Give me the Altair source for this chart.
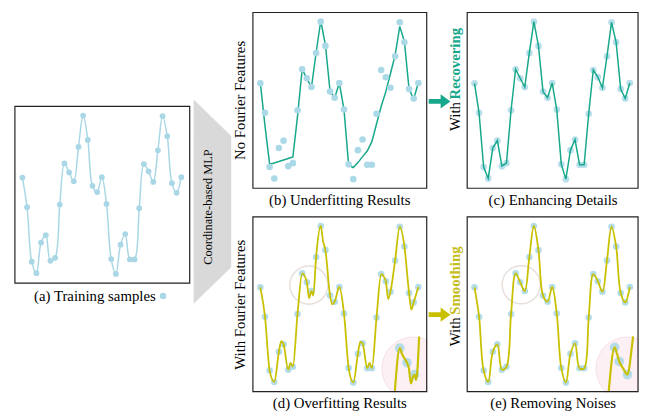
import altair as alt
import pandas as pd

# ---------------- data ----------------
t_samples = list(range(35))
samples = [0.597, 0.429, 0.121, 0.056, 0.229, 0.271, 0.126, 0.143, 0.444, 0.677,
           0.626, 0.576, 0.770, 0.948, 0.810, 0.550, 0.515, 0.599, 0.448, 0.136,
           0.052, 0.217, 0.277, 0.134, 0.134, 0.424, 0.673, 0.632, 0.572, 0.751,
           0.944, 0.831, 0.565, 0.511, 0.599]

underfit = [0.600, 0.355, 0.137, 0.144, 0.152, 0.161, 0.169, 0.178, 0.409, 0.677,
            0.625, 0.574, 0.771, 0.953, 0.816, 0.553, 0.514, 0.600, 0.447, 0.131,
            0.118, 0.146, 0.180, 0.212, 0.265, 0.366, 0.465, 0.550, 0.653, 0.756,
            0.921, 0.835, 0.565, 0.507, 0.600]

# extra wiggles of the over-fitted curve (between samples)
over_extra_t = [4.5, 6.5, 10.5, 11.4, 13.5, 15.5, 21.5, 23.5, 27.5, 32.5]
over_extra_v = [0.290, 0.165, 0.536, 0.550, 0.860, 0.500, 0.285, 0.165, 0.530, 0.470]

# zoomed insets (pink circles)
inset_d_t = [28.94, 30.00, 30.49, 31.06, 31.55, 31.98, 32.40, 32.83, 33.19, 33.53, 34.17]
inset_d_v = [0.000, 0.249, 0.216, 0.188, 0.166, 0.132, 0.047, 0.085, 0.098, 0.066, 0.316]
inset_d_pt_t = [30.00, 31.55, 33.19]
inset_d_pt_v = [0.249, 0.166, 0.098]

inset_e_t = [29.38, 30.68, 31.20, 31.69, 32.56, 33.49, 33.86, 34.22, 34.72]
inset_e_v = [0.000, 0.254, 0.216, 0.173, 0.132, 0.098, 0.132, 0.207, 0.316]
inset_e_pt_t = [30.68, 31.69, 33.49]
inset_e_pt_v = [0.254, 0.173, 0.098]

# highlight circles (panel data units)
ring_d = (10.45, 0.61)
ring_e = (10.23, 0.612)
pink_d = (32.97, 0.132)
pink_e = (33.49, 0.132)

# ---------------- style / layout ----------------
W, H = 641, 405
TEAL = "#17a88b"
YELLOW = "#c8c000"
YELLOW_TXT = "#c5bd1c"
BLUE = "#a9d7e5"
PT = "#acd9e7"
FONT = "Liberation Serif"

T_DOM = [-1.6, 35.8]
V_DOM = [0, 1]
# panel boxes in chart pixels: x0, x1, top, bottom
boxes = {
    "a": (7, 184, 97, 276),
    "b": (248, 424, 2, 180),
    "c": (465, 638, 2, 180),
    "d": (248, 424, 209, 386),
    "e": (465, 638, 209, 386),
}


def sx(p):
    x0, x1, _, _ = boxes[p]
    return alt.Scale(domain=T_DOM, range=[x0, x1], nice=False, zero=False)


def sy(p):
    _, _, y0, y1 = boxes[p]
    return alt.Scale(domain=V_DOM, range=[y1, y0], nice=False, zero=False)


def df(t, v):
    return pd.DataFrame({"t": t, "v": v})


def xy(p):
    return dict(x=alt.X("t:Q", scale=sx(p), axis=None),
                y=alt.Y("v:Q", scale=sy(p), axis=None))


one = pd.DataFrame({"k": [0]})
layers = []

# trapezoid "Coordinate-based MLP"
trap = "M-0.184,-1L0.184,-0.643L0.184,0.643L-0.184,1Z"
layers.append(alt.Chart(one).mark_point(shape=trap, filled=True, fill="#d9d9d9",
                                        opacity=1, strokeWidth=0, size=207 * 207)
              .encode(x=alt.value(207), y=alt.value(193.5)))

# pink inset circles
for p, c in (("d", pink_d), ("e", pink_e)):
    layers.append(alt.Chart(df([c[0]], [c[1]])).mark_point(
        shape="circle", filled=True, fill="#fcf0f4", stroke="#f5e0e8",
        strokeWidth=1, opacity=1, size=64 * 64).encode(**xy(p)))

# white masks clipping the pink circles to their panels
for (x0, x1, y0, y1) in ((425, 445, 328, 397), (376, 445, 387, 397),
                         (639, 641, 328, 397), (592, 641, 387, 397)):
    layers.append(alt.Chart(one).mark_rect(fill="white", strokeWidth=0).encode(
        x=alt.value(x0), x2=alt.value(x1), y=alt.value(y0), y2=alt.value(y1)))

# grey rings
for p, c in (("d", ring_d), ("e", ring_e)):
    layers.append(alt.Chart(df([c[0]], [c[1]])).mark_point(
        shape="circle", filled=False, stroke="#ddd3cc", strokeWidth=1.5,
        size=38.6 * 38.6).encode(**xy(p)))

samp = df(t_samples, samples)
over = pd.concat([samp, df(over_extra_t, over_extra_v)]).sort_values("t")

# (a) training samples
layers.append(alt.Chart(samp).mark_line(interpolate="catmull-rom", color=BLUE,
                                        strokeWidth=1.5).encode(**xy("a")))
layers.append(alt.Chart(samp).mark_point(filled=True, color=BLUE, opacity=1,
                                         size=34).encode(**xy("a")))
# (b) underfitting
layers.append(alt.Chart(df(t_samples, underfit)).mark_line(color=TEAL, strokeWidth=1.5)
              .encode(**xy("b")))
layers.append(alt.Chart(samp).mark_point(filled=True, color=PT, opacity=1, size=44)
              .encode(**xy("b")))
# (c) enhancing details
layers.append(alt.Chart(samp).mark_point(filled=True, color=PT, opacity=0.85, size=46)
              .encode(**xy("c")))
layers.append(alt.Chart(samp).mark_line(color=TEAL, strokeWidth=1.5).encode(**xy("c")))
# (d) overfitting
layers.append(alt.Chart(samp).mark_point(filled=True, color=PT, opacity=0.9, size=44)
              .encode(**xy("d")))
layers.append(alt.Chart(over).mark_line(interpolate="monotone", color=YELLOW,
                                        strokeWidth=1.8).encode(**xy("d")))
# (e) smoothing
layers.append(alt.Chart(samp).mark_point(filled=True, color=PT, opacity=0.9, size=44)
              .encode(**xy("e")))
layers.append(alt.Chart(samp).mark_line(interpolate="catmull-rom", color=YELLOW,
                                        strokeWidth=1.8).encode(**xy("e")))
# insets
for p, it, iv, pt, pv in (("d", inset_d_t, inset_d_v, inset_d_pt_t, inset_d_pt_v),
                          ("e", inset_e_t, inset_e_v, inset_e_pt_t, inset_e_pt_v)):
    layers.append(alt.Chart(df(pt, pv)).mark_point(filled=True, color="#b2d9e8",
                                                   opacity=0.95, size=95).encode(**xy(p)))
    layers.append(alt.Chart(df(it, iv)).mark_line(interpolate="monotone", color=YELLOW,
                                                  strokeWidth=2.2).encode(**xy(p)))

# panel frames
frame = pd.DataFrame({"t": [T_DOM[0]], "t2": [T_DOM[1]], "v": [V_DOM[0]], "v2": [V_DOM[1]]})
for p in "abcde":
    layers.append(alt.Chart(frame).mark_rect(fillOpacity=0, stroke="#222222",
                                             strokeWidth=1.2).encode(
        x=alt.X("t:Q", scale=sx(p), axis=None), x2="t2:Q",
        y=alt.Y("v:Q", scale=sy(p), axis=None), y2="v2:Q"))

# arrows
arrow = "M-1,-0.22L0.1,-0.22L0.1,-0.65L1,0L0.1,0.65L0.1,0.22L-1,0.22Z"
for col, yy in ((TEAL, 92), (YELLOW, 308)):
    layers.append(alt.Chart(one).mark_point(shape=arrow, filled=True, fill=col, opacity=1,
                                            strokeWidth=0, size=22 * 22)
                  .encode(x=alt.value(437), y=alt.value(yy)))


def txt(s, x, y, size=15, angle=0, align="center", color="black", weight="normal"):
    return alt.Chart(one).mark_text(text=s, font=FONT, fontSize=size, angle=angle,
                                    align=align, baseline="middle", color=color,
                                    fontWeight=weight).encode(x=alt.value(x), y=alt.value(y))


# captions
layers.append(txt("(a) Training samples", 88, 289))
layers.append(alt.Chart(one).mark_point(filled=True, color=BLUE, opacity=1, size=42)
              .encode(x=alt.value(157), y=alt.value(289)))
layers.append(txt("(b) Underfitting Results", 336, 192))
layers.append(txt("(c) Enhancing Details", 552, 192))
layers.append(txt("(d) Overfitting Results", 336, 397))
layers.append(txt("(e) Removing Noises", 552, 397))
# side labels
layers.append(txt("Coordinate-based MLP", 203, 199, size=12.5, angle=270))
layers.append(txt("No Fourier Features", 235, 91, angle=270))
layers.append(txt("With Fourier Features", 235, 298, angle=270))
layers.append(txt("With", 453, 122, angle=270, align="left"))
layers.append(txt("Recovering", 453, 90, angle=270, align="left", color=TEAL, weight="bold"))
layers.append(txt("With", 453, 340, angle=270, align="left"))
layers.append(txt("Smoothing", 453, 308, angle=270, align="left", color=YELLOW_TXT,
                  weight="bold"))

chart = (alt.layer(*layers)
         .resolve_scale(x="independent", y="independent")
         .properties(width=W, height=H, padding=0, autosize=alt.AutoSizeParams(type="none"),
                     background="white")
         .configure_view(stroke=None))

chart.save("out.html", embed_options={"renderer": "svg", "actions": False})
